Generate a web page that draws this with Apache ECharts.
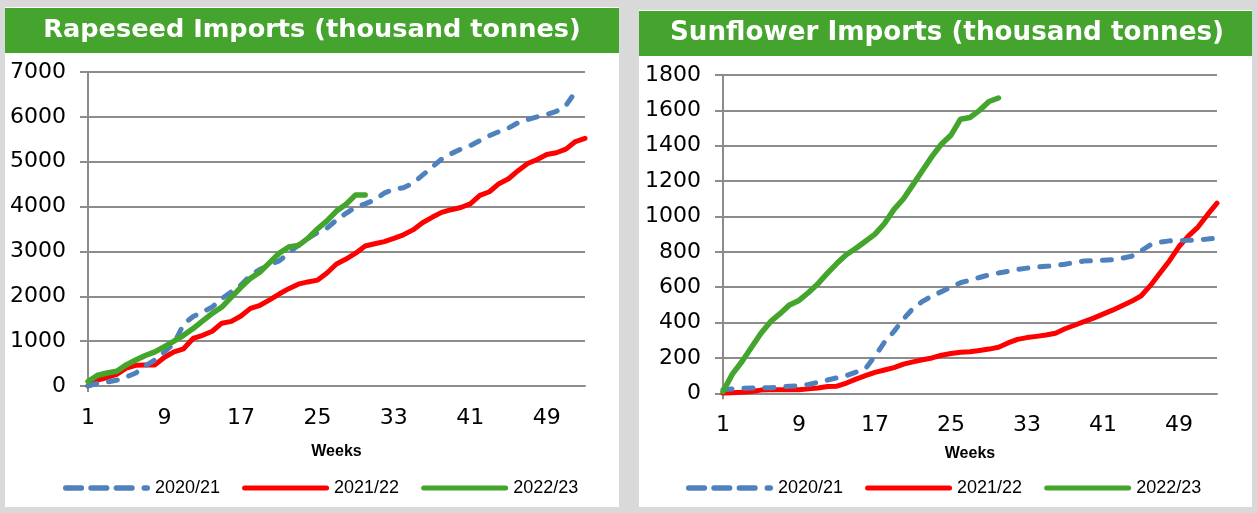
<!DOCTYPE html>
<html><head><meta charset="utf-8">
<script src="https://cdn.jsdelivr.net/npm/echarts@6/dist/echarts.min.js"></script>
<style>html,body{margin:0;padding:0;background:#d9d9d9;overflow:hidden}#c{width:1257px;height:513px;}</style>
</head><body><div id="c"></div>
<script>
// ---- data ----
const weeks = ['1','2','3','4','5','6','7','8','9','10','11','12','13','14','15','16','17','18','19','20','21','22','23','24','25','26','27','28','29','30','31','32','33','34','35','36','37','38','39','40','41','42','43','44','45','46','47','48','49','50','51','52','53'];
const seasons = ['2020/21', '2021/22', '2022/23'];
const titles = ['Rapeseed Imports (thousand tonnes)', 'Sunflower Imports (thousand tonnes)'];
const xName = 'Weeks';

const rapeseedTicks = [0, 1000, 2000, 3000, 4000, 5000, 6000, 7000];
const sunflowerTicks = [0, 200, 400, 600, 800, 1000, 1200, 1400, 1600, 1800];

const rapeseed2020 = [0,60,90,130,200,290,450,580,760,950,1380,1550,1650,1760,1950,2100,2250,2470,2600,2700,2790,2960,3140,3290,3420,3520,3700,3850,3990,4060,4150,4300,4390,4420,4520,4700,4880,5060,5180,5280,5360,5470,5580,5670,5750,5870,5940,6000,6050,6120,6250,6560];
const rapeseed2021 = [0,130,190,260,400,460,470,470,640,760,830,1060,1130,1220,1400,1440,1560,1730,1800,1920,2050,2170,2270,2320,2360,2520,2720,2830,2960,3120,3170,3220,3290,3370,3480,3640,3760,3870,3930,3980,4060,4250,4330,4510,4620,4800,4960,5050,5160,5200,5280,5450,5520];
const rapeseed2022 = [100,240,290,330,470,580,680,760,880,1000,1130,1280,1450,1620,1760,1980,2200,2400,2540,2750,2960,3100,3130,3290,3500,3680,3900,4050,4260,4260];

const sunflower2020 = [20,25,28,30,30,32,36,40,42,50,62,75,88,100,120,140,210,290,350,420,480,520,550,575,600,625,640,655,670,680,690,700,708,714,718,722,730,740,748,750,752,756,764,775,805,840,855,862,864,865,868,872,878];
const sunflower2021 = [0,3,6,10,18,20,20,20,20,25,30,38,40,58,80,100,118,132,145,165,178,190,200,215,225,232,235,242,250,260,285,305,315,322,330,340,365,385,405,425,448,470,495,520,550,610,680,750,830,890,940,1010,1075];
const sunflower2022 = [10,110,180,260,340,405,450,500,525,570,620,680,735,785,820,860,900,960,1040,1100,1180,1260,1340,1410,1460,1550,1560,1600,1650,1670];

// ---- styles ----
const BLUE = '#4f81bd', RED = '#ff0000', GREEN = '#44a52d', BAR = '#45a42e', GRID = '#8c8c8c';
const panels = [
  {x: 5, y: 7, w: 614, h: 500, barH: 45, tx: 312, ty: 30, fs: 25.6},
  {x: 639, y: 10, w: 613, h: 497, barH: 45, tx: 947, ty: 33.5, fs: 26.2}
];
const grids = [
  {left: 88, top: 72, width: 497, height: 314},
  {left: 723, top: 75, width: 494, height: 318.3}
];
const nameGaps = [58, 52];
const legendPos = [{left: 58, top: 474}, {left: 681, top: 474}];
const ICON_DASH = 'path://M2.5,0h15a2.5,2.5 0 0 1 0,5h-15a2.5,2.5 0 0 1 0,-5z M26.5,0h15a2.5,2.5 0 0 1 0,5h-15a2.5,2.5 0 0 1 0,-5z M50.5,0h15a2.5,2.5 0 0 1 0,5h-15a2.5,2.5 0 0 1 0,-5z M77,0h3a2.5,2.5 0 0 1 0,5h-3a2.5,2.5 0 0 1 0,-5z';
const ICON_SOLID = 'path://M2.5,0h82a2.5,2.5 0 0 1 0,5h-82a2.5,2.5 0 0 1 0,-5z';
const legendIcons = [ICON_DASH, ICON_SOLID, ICON_SOLID];

const chart = echarts.init(document.getElementById('c'), null, {renderer: 'canvas'});

function xAxis(i) {
  return {
    type: 'category', gridIndex: i, data: weeks, boundaryGap: false,
    name: xName, nameLocation: 'middle', nameGap: nameGaps[i],
    nameTextStyle: {fontFamily: 'Liberation Sans', fontWeight: 'bold', fontSize: 16, color: '#000'},
    axisLine: {show: true, lineStyle: {color: GRID, width: 2}},
    axisTick: {show: true, interval: function (idx) { return idx === 0; }, length: 6, lineStyle: {color: GRID, width: 2}},
    axisLabel: {interval: 7, margin: 21, fontFamily: 'DejaVu Sans', fontSize: 22, color: '#000'},
    splitLine: {show: false}
  };
}
function yAxis(i, ticks) {
  return {
    type: 'value', gridIndex: i, min: ticks[0], max: ticks[ticks.length - 1], interval: ticks[1] - ticks[0],
    axisLine: {show: true, lineStyle: {color: GRID, width: 2}},
    axisTick: {show: true, length: 8, lineStyle: {color: GRID, width: 2}},
    axisLabel: {margin: 22, fontFamily: 'DejaVu Sans', fontSize: 22, color: '#000', formatter: function (v) { return String(v); }},
    splitLine: {show: true, lineStyle: {color: GRID, width: 2}}
  };
}
function line(name, data, i, color, dashed) {
  return {
    type: 'line', name: name, xAxisIndex: i, yAxisIndex: i, data: data,
    symbol: 'none', smooth: false, z: dashed ? 3 : (color === GREEN ? 4 : 2),
    lineStyle: {color: color, width: color === GREEN ? 5.5 : 5, type: dashed ? [9, 12] : 'solid', cap: 'round', join: 'round'},
    itemStyle: {color: color}
  };
}

const graphic = [];
panels.forEach(function (p, i) {
  graphic.push({type: 'rect', z: -10, shape: {x: p.x, y: p.y, width: p.w, height: p.h}, style: {fill: '#ffffff'}});
  graphic.push({type: 'rect', z: -9, shape: {x: p.x, y: p.y + 1, width: p.w, height: p.barH}, style: {fill: BAR}});
  graphic.push({type: 'text', z: 100, x: p.tx, y: p.ty, style: {text: titles[i], fill: '#ffffff', font: 'bold ' + p.fs + 'px "DejaVu Sans"', align: 'center', verticalAlign: 'middle'}});
});

const legendCommon = {
  data: seasons.map(function (s, k) { return {name: s, icon: legendIcons[k]}; }),
  orient: 'horizontal', itemWidth: 87, itemHeight: 6, itemGap: 22,
  textStyle: {fontFamily: 'Liberation Sans', fontSize: 18, color: '#000'},
  itemStyle: {borderWidth: 0},
  lineStyle: {width: 0, opacity: 0},
  selectedMode: false
};

chart.setOption({
  animation: false,
  backgroundColor: 'transparent',
  graphic: graphic,
  legend: legendPos.map(function (lp) { return Object.assign({}, legendCommon, lp); }),
  grid: grids,
  xAxis: [xAxis(0), xAxis(1)],
  yAxis: [yAxis(0, rapeseedTicks), yAxis(1, sunflowerTicks)],
  series: [
    line(seasons[0], rapeseed2020, 0, BLUE, true),
    line(seasons[1], rapeseed2021, 0, RED, false),
    line(seasons[2], rapeseed2022, 0, GREEN, false),
    line(seasons[0], sunflower2020, 1, BLUE, true),
    line(seasons[1], sunflower2021, 1, RED, false),
    line(seasons[2], sunflower2022, 1, GREEN, false)
  ]
});
</script></body></html>
